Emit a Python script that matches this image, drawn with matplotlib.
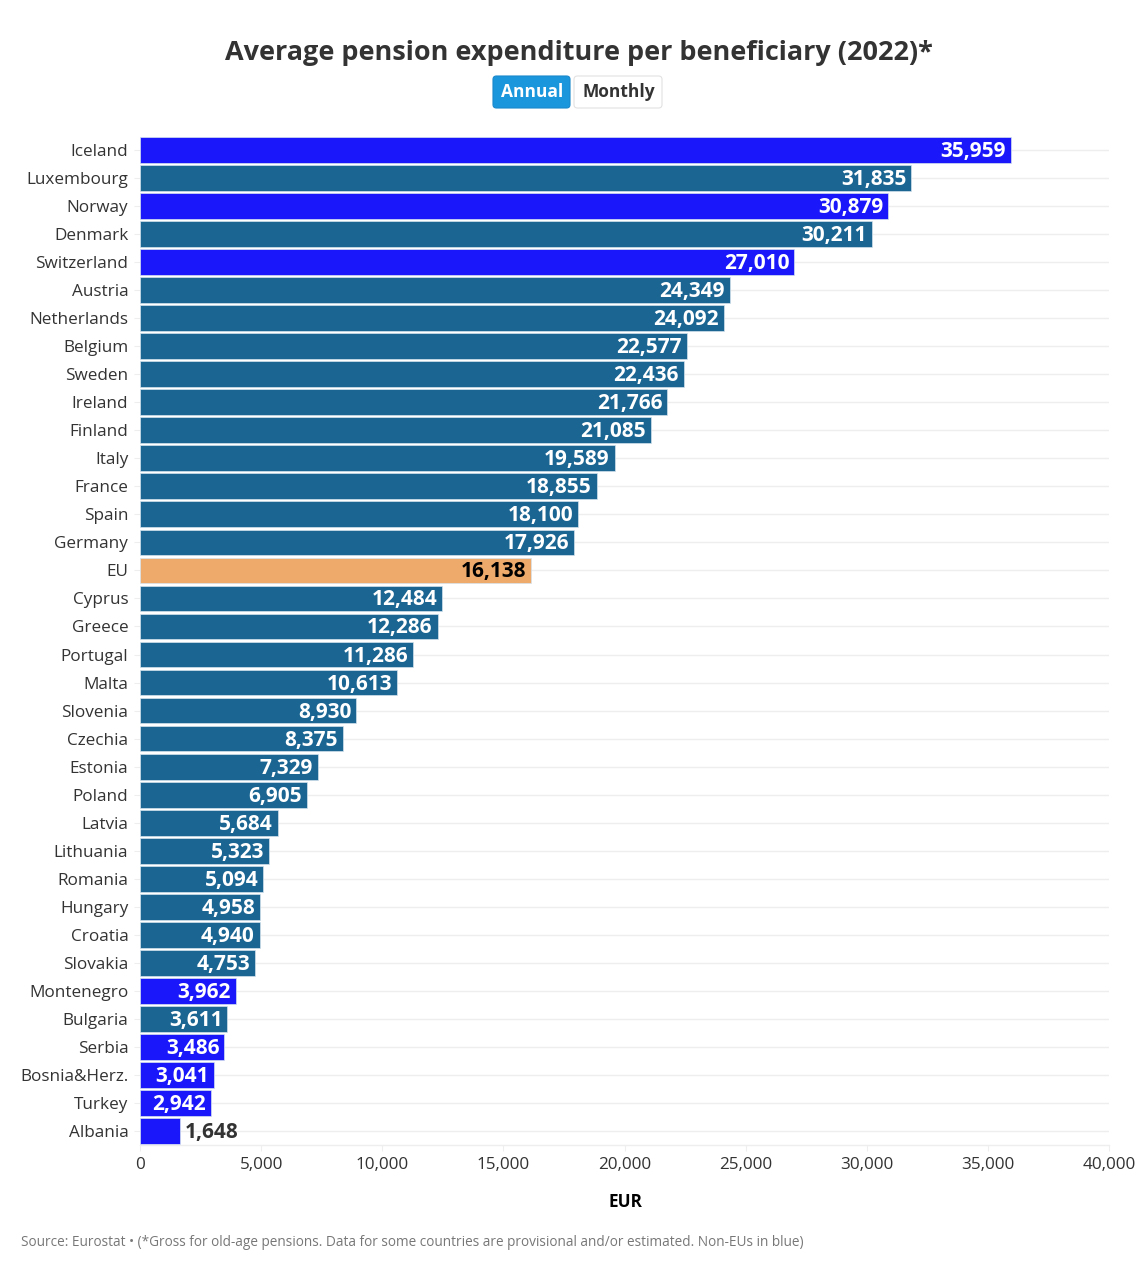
# -*- coding: utf-8 -*-
import matplotlib
matplotlib.use("Agg")
import matplotlib.pyplot as plt
from matplotlib.patches import FancyBboxPatch

countries = ["Iceland", "Luxembourg", "Norway", "Denmark", "Switzerland", "Austria",
             "Netherlands", "Belgium", "Sweden", "Ireland", "Finland", "Italy",
             "France", "Spain", "Germany", "EU", "Cyprus", "Greece", "Portugal",
             "Malta", "Slovenia", "Czechia", "Estonia", "Poland", "Latvia",
             "Lithuania", "Romania", "Hungary", "Croatia", "Slovakia", "Montenegro",
             "Bulgaria", "Serbia", "Bosnia&Herz.", "Turkey", "Albania"]
values = [35959, 31835, 30879, 30211, 27010, 24349, 24092, 22577, 22436, 21766,
          21085, 19589, 18855, 18100, 17926, 16138, 12484, 12286, 11286, 10613,
          8930, 8375, 7329, 6905, 5684, 5323, 5094, 4958, 4940, 4753, 3962, 3611,
          3486, 3041, 2942, 1648]
non_eu = ["Iceland", "Norway", "Switzerland", "Montenegro", "Serbia", "Bosnia&Herz.",
          "Turkey", "Albania"]
x_ticks = [0, 5000, 10000, 15000, 20000, 25000, 30000, 35000, 40000]

W, H = 1146, 1280
BLUE = "#1a17fb"
TEAL = "#1a6592"
ORANGE = "#eeaa6a"
DARK = "#333333"

plt.rcParams["font.family"] = ["Open Sans", "Noto Sans", "DejaVu Sans"]

fig = plt.figure(figsize=(W / 100, H / 100), dpi=100, facecolor="white")
# axes box in pixels: x 140-1109, y 136-1145
ax = fig.add_axes([140 / W, 1 - 1145 / H, (1109 - 140) / W, (1145 - 136) / H])

colors = []
for c in countries:
    if c == "EU":
        colors.append(ORANGE)
    elif c in non_eu:
        colors.append(BLUE)
    else:
        colors.append(TEAL)

ypos = list(range(len(countries)))
ax.hlines(ypos, 0, 40000, color="#eeeeee", lw=1.0, zorder=1)
ax.barh(ypos, values, height=0.92, color=colors, edgecolor="#d5e3ee", linewidth=0.5, zorder=2)

for y, c, v in zip(ypos, countries, values):
    label = f"{v:,}"
    if c == "Albania":
        ax.annotate(label, (v, y), xytext=(5, 1), textcoords="offset pixels", ha="left",
                    va="center_baseline", fontsize=15, fontweight="bold", color=DARK, zorder=3)
    else:
        col = "black" if c == "EU" else "white"
        ax.annotate(label, (v, y), xytext=(-5, 1), textcoords="offset pixels", ha="right",
                    va="center_baseline", fontsize=15, fontweight="bold", color=col, zorder=3)

ax.set_xlim(0, 40000)
ax.set_ylim(len(countries) - 0.5, -0.5)
ax.set_yticks(ypos)
ax.set_yticklabels(countries)
ax.set_xticks(x_ticks)
ax.set_xticklabels([f"{t:,}" for t in x_ticks])
ax.tick_params(axis="y", length=4, width=0.8, color="#eeeeee", pad=4.4, labelsize=12.3, labelcolor=DARK)
ax.tick_params(axis="x", length=4, width=0.8, color="#eeeeee", pad=4.8, labelsize=12.3, labelcolor=DARK)
for side in ["top", "right", "left"]:
    ax.spines[side].set_visible(False)
ax.spines["bottom"].set_color("#eeeeee")
ax.spines["bottom"].set_linewidth(1.0)

fig.text(578.5 / W, 1 - 53 / H, "Average pension expenditure per beneficiary (2022)*", ha="center",
         va="center", fontsize=19.45, fontweight="bold", color=DARK)
fig.text(625 / W, 1 - 1202 / H, "EUR", ha="center", va="center", fontsize=12.3,
         fontweight="bold", color="black")
fig.text(21 / W, 1 - 1243 / H,
         "Source: Eurostat • (*Gross for old-age pensions. Data for some countries are "
         "provisional and/or estimated. Non-EUs in blue)",
         ha="left", va="center", fontsize=9.84, color="#777777")

# Annual / Monthly buttons, pixel boxes
for x0, x1, face, edge, txt, tcol in [(493, 570, "#1a96dc", "#1a88cc", "Annual", "white"),
                                      (574, 662, "white", "#e2e2e2", "Monthly", DARK)]:
    box = FancyBboxPatch((x0 / W, 1 - 108 / H), (x1 - x0) / W, 32 / H,
                         boxstyle="round,pad=0,rounding_size=0.003", transform=fig.transFigure,
                         facecolor=face, edgecolor=edge, linewidth=0.8, mutation_aspect=W / H)
    fig.add_artist(box)
    fig.text((x0 + x1 + 2) / 2 / W, 1 - 92 / H, txt, ha="center", va="center", fontsize=12.5,
             fontweight="bold", color=tcol)

fig.savefig("out.png", dpi=100)
